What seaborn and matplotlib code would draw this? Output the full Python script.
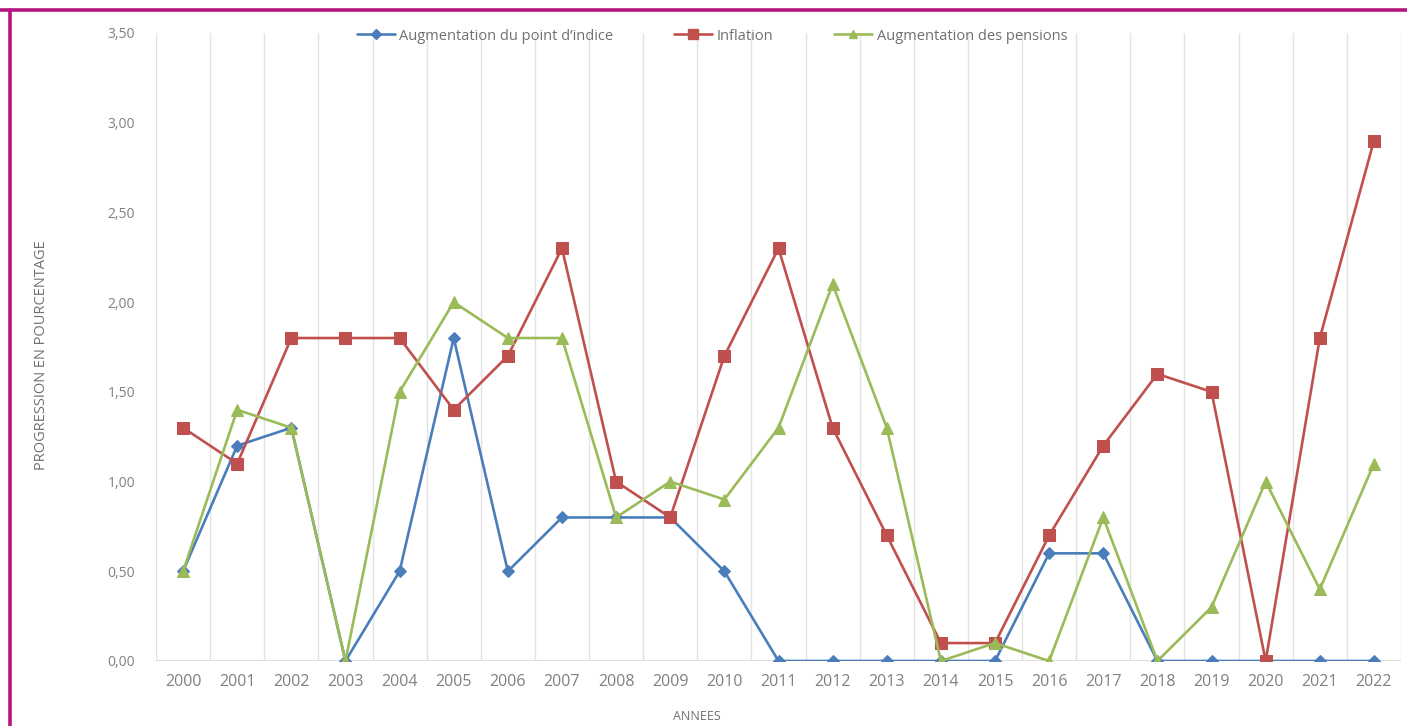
import matplotlib
matplotlib.use("Agg")
import matplotlib.pyplot as plt
import seaborn as sns
import pandas as pd
from matplotlib.lines import Line2D

years = [str(y) for y in range(2000, 2023)]
point_indice = [0.5, 1.2, 1.3, 0.0, 0.5, 1.8, 0.5, 0.8, 0.8, 0.8, 0.5, 0.0,
                0.0, 0.0, 0.0, 0.0, 0.6, 0.6, 0.0, 0.0, 0.0, 0.0, 0.0]
inflation = [1.3, 1.1, 1.8, 1.8, 1.8, 1.4, 1.7, 2.3, 1.0, 0.8, 1.7, 2.3,
             1.3, 0.7, 0.1, 0.1, 0.7, 1.2, 1.6, 1.5, 0.0, 1.8, 2.9]
pensions = [0.5, 1.4, 1.3, 0.0, 1.5, 2.0, 1.8, 1.8, 0.8, 1.0, 0.9, 1.3,
            2.1, 1.3, 0.0, 0.1, 0.0, 0.8, 0.0, 0.3, 1.0, 0.4, 1.1]
series_names = ["Augmentation du point d\u2019indice", "Inflation",
                "Augmentation des pensions"]
y_ticks = [0.0, 0.5, 1.0, 1.5, 2.0, 2.5, 3.0, 3.5]

colors = ["#4A7EBB", "#C0504D", "#9BBB59"]
markers = ["D", "s", "^"]
msizes = [6, 8.5, 8]

sns.set_theme(style="white")
plt.rcParams["font.family"] = ["Open Sans", "DejaVu Sans"]

fig = plt.figure(figsize=(14.07, 7.26), dpi=100)
ax = fig.add_axes([156 / 1407, 1 - 661 / 726, (1401 - 156) / 1407, (661 - 33) / 726])

df = pd.DataFrame({
    "x": list(range(len(years))) * 3,
    "val": point_indice + inflation + pensions,
    "serie": sum([[n] * len(years) for n in series_names], []),
})

for name, c, m, ms in zip(series_names, colors, markers, msizes):
    sub = df[df["serie"] == name]
    sns.lineplot(data=sub, x="x", y="val", ax=ax, color=c, marker=m,
                 markersize=ms, markeredgecolor=c, linewidth=1.9,
                 legend=False, zorder=3)

ax.set_xlim(-0.5, len(years) - 0.5)
ax.set_ylim(0, 3.5)
for b in [i - 0.5 for i in range(len(years) + 1)]:
    ax.axvline(b, color="#E3E3E3", linewidth=1.0, zorder=1)
ax.axhline(0, color="#D9D9D9", linewidth=1.2, zorder=2)

for s in ax.spines.values():
    s.set_visible(False)
ax.set_xticks(range(len(years)))
ax.set_xticklabels(years, fontsize=11.5, color="#808080")
ax.set_yticks(y_ticks)
ax.set_yticklabels([f"{v:.2f}".replace(".", ",") for v in y_ticks],
                   fontsize=10, color="#808080")
ax.tick_params(axis="both", length=0)
ax.tick_params(axis="x", pad=9)
ax.tick_params(axis="y", pad=15)
ax.set_xlabel("")
ax.set_ylabel("")

fig.text(42 / 1407, 1 - 355 / 726, "PROGRESSION EN POURCENTAGE", rotation=90,
         ha="center", va="center", fontsize=10.5, color="#707070")
fig.text(697 / 1407, 1 - 716 / 726, "ANNEES", ha="center", va="center",
         fontsize=9, color="#707070")

handles = [Line2D([0], [0], color=c, marker=m, markersize=ms * 0.8,
                  linewidth=1.9, markeredgecolor=c)
           for c, m, ms in zip(colors, markers, msizes)]
fig.legend(handles, series_names, loc="center", ncol=3,
           bbox_to_anchor=(712 / 1407, 1 - 36 / 726), frameon=False,
           fontsize=10.5, handlelength=2.6, columnspacing=4.2,
           labelcolor="#707070", handletextpad=0.3)

border = "#B5177F"
fig.add_artist(Line2D([0, 1], [1 - 9.5 / 726, 1 - 9.5 / 726],
                      transform=fig.transFigure, color=border, linewidth=2.6))
fig.add_artist(Line2D([9.5 / 1407, 9.5 / 1407], [0, 1 - 9.5 / 726],
                      transform=fig.transFigure, color=border, linewidth=2.6))

fig.savefig("out.png", dpi=100)
